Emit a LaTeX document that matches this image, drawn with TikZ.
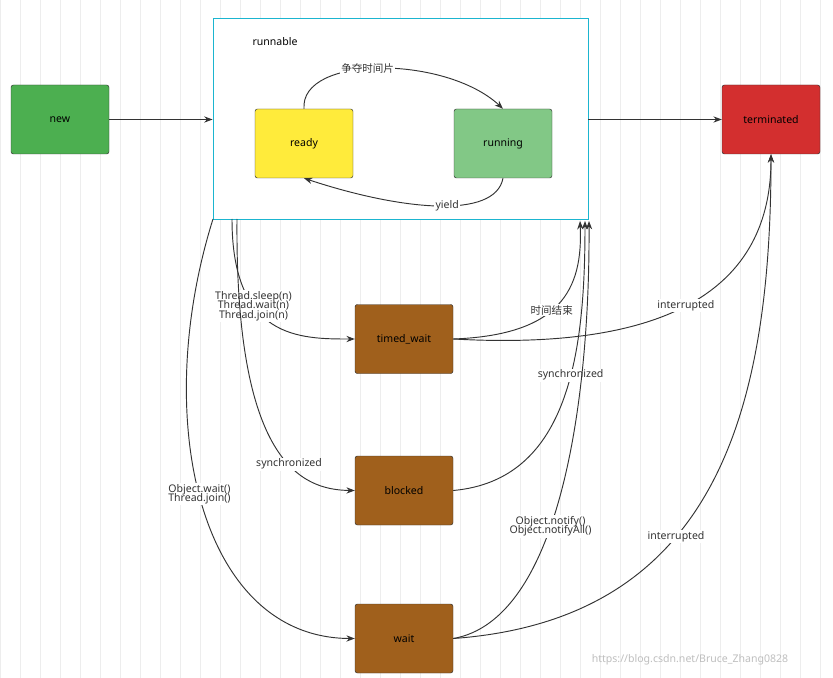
\documentclass[tikz,border=0pt]{standalone}
\usepackage{fontspec}
\setmainfont{Noto Sans}
\newfontfamily\cjk{Noto Sans CJK SC}
\usetikzlibrary{arrows.meta}
\definecolor{gridc}{HTML}{EDEDED}
\definecolor{cyanb}{HTML}{1BB5D0}
\definecolor{newc}{HTML}{4CAF50}
\definecolor{readyc}{HTML}{FFEB3B}
\definecolor{runc}{HTML}{82C886}
\definecolor{termc}{HTML}{D32F2F}
\definecolor{brownc}{HTML}{A0601C}
\tikzset{state/.style = {draw = black!80, rounded corners = 2pt, minimum width = 98 * 0.03cm, minimum height = 69 * 0.03cm, font = \small}}
\tikzset{edge/.style = {draw = black!80, thick, -{Stealth[length = 2.5mm]}}}
\tikzset{lbl/.style = {fill = white, inner sep = 1pt, font = \small, align = center, text = black!80}}

\begin{document}
\begin{tikzpicture}[x = 0.03cm, y = -0.03cm]

  \useasboundingbox (0 , 0) rectangle (833 , 678);
  \fill [white] (0 , 0) rectangle (833 , 678);
  \draw [gridc, step = 20] (0 , 0) grid (833 , 678);

  \node [draw = cyanb, thick, fill = white, minimum width = 375 * 0.03cm, minimum height = 201 * 0.03cm] (runnable) at (400.5 , 118.5) {};
  \node [font = \small\bfseries] (runlbl) at (275 , 42) {runnable};

  \node [state, fill = newc, font = \small\bfseries] (new) at (60 , 119.5) {new};
  \node [state, fill = readyc, font = \small\bfseries] (ready) at (304 , 143.5) {ready};
  \node [state, fill = runc, font = \small\bfseries] (running) at (503 , 143.5) {running};
  \node [state, fill = termc, font = \small\bfseries] (term) at (771 , 119.5) {terminated};
  \node [state, fill = brownc] (timed) at (404 , 339) {timed\_wait};
  \node [state, fill = brownc] (blocked) at (404 , 490.5) {blocked};
  \node [state, fill = brownc] (wait) at (404 , 638.5) {wait};

  % points on the runnable border
  \coordinate (r1) at (213 , 219);
  \coordinate (r2) at (232 , 219);
  \coordinate (r3) at (237 , 219);
  \coordinate (r4) at (580 , 221);
  \coordinate (r5) at (585 , 221);
  \coordinate (r6) at (589 , 221);

  \draw [edge] (new) -- (runnable.west |- new);
  \draw [edge] (runnable.east |- term) -- (term);

  \draw [edge] (ready.north) .. controls (300 , 55) and (445 , 55) .. (running.north) node [lbl, pos = 0.45] {\cjk 争夺时间片};
  \draw [edge] (running.south) .. controls (495 , 220) and (400 , 210) .. (ready.south) node [lbl, pos = 0.45] {yield};

  \draw [edge] (r2) .. controls (232 , 339) and (300 , 339) .. (timed.west) node [lbl, pos = 0.35] {Thread.sleep(n)\\[-3pt]Thread.wait(n)\\[-3pt]Thread.join(n)};
  \draw [edge] (timed.east) .. controls (560 , 335) and (583 , 290) .. (r4) node [lbl, pos = 0.45] {\cjk 时间结束};
  \draw [edge] (timed.east) .. controls (650 , 350) and (771 , 300) .. (term.south) node [lbl, pos = 0.5] {interrupted};

  \draw [edge] (r3) .. controls (235 , 460) and (300 , 490) .. (blocked.west) node [lbl, pos = 0.6] {synchronized};
  \draw [edge] (blocked.east) .. controls (570 , 480) and (585 , 350) .. (r5) node [lbl, pos = 0.58] {synchronized};

  \draw [edge] (r1) .. controls (150 , 420) and (200 , 638) .. (wait.west) node [lbl, pos = 0.48] {Object.wait()\\[-3pt]Thread.join()};
  \draw [edge] (wait.east) .. controls (560 , 620) and (590 , 400) .. (r6) node [lbl, pos = 0.42] {Object.notify()\\[-3pt]Object.notifyAll()};
  \draw [edge] (wait.east) .. controls (710 , 620) and (771 , 420) .. (term.south) node [lbl, pos = 0.4] {interrupted};

  \node [text = black!25, font = \small] (mark) at (690 , 660) {https://blog.csdn.net/Bruce\_Zhang0828};

\end{tikzpicture}
\end{document}
